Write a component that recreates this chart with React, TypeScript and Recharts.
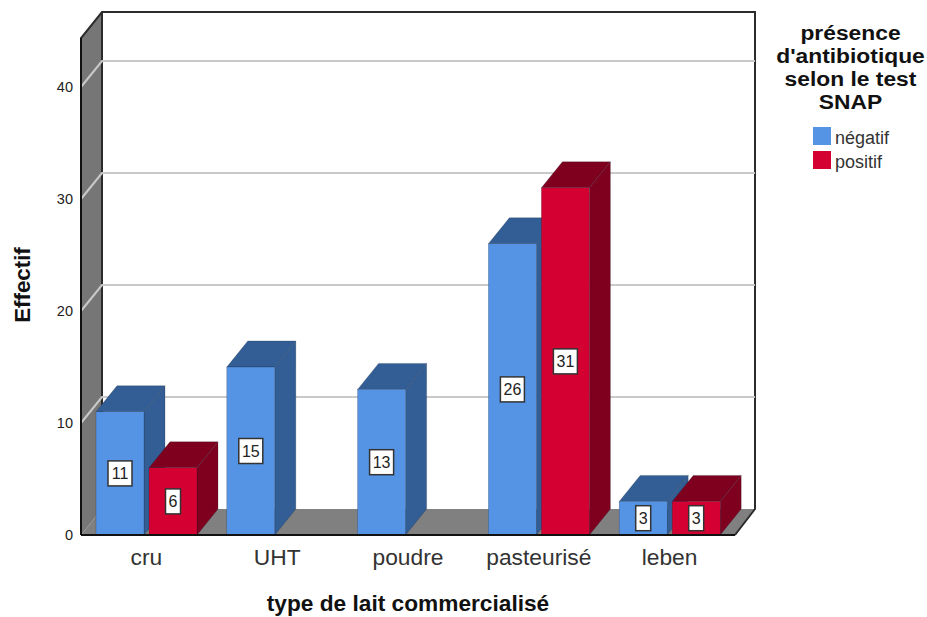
import React from "react";
import { BarChart, Bar, XAxis, YAxis, CartesianGrid, LabelList, Legend } from "recharts";

const categories = ["cru", "UHT", "poudre", "pasteurisé", "leben"];
const negatif = [11, 15, 13, 26, 3];
const positif: (number | null)[] = [6, null, null, 31, 3];
const yTicks = [0, 10, 20, 30, 40];
const legendTitle = ["présence", "d'antibiotique", "selon le test", "SNAP"];
const seriesNames = ["négatif", "positif"];

const data = categories.map((name, i) => ({ name, negatif: negatif[i], positif: positif[i] }));

const W = 927, H = 617;
const L = 81, R = 735, T = 38, B = 535;
const DX = 21, DY = 26;
const FONT = "'Liberation Sans', Arial, sans-serif";
const LINE = "#2b2b2b";

const BLUE = { front: "#5594E4", dark: "#335E95" };
const RED = { front: "#D50032", dark: "#7F001E" };

const Walls = () => (
  <g>
    <rect x={L + DX} y={T - DY} width={R - L} height={B - T} fill="#ffffff" />
    <polygon points={`${L},${T} ${L + DX},${T - DY} ${L + DX},${B - DY} ${L},${B}`} fill="#767676" />
    <polygon points={`${L},${B} ${L + DX},${B - DY} ${R + DX - 1},${B - DY} ${R},${B}`} fill="#808080" />
    <path
      d={`M${L},${B} L${L},${T} L${L + DX},${T - DY} L${R + DX - 1},${T - DY} L${R + DX - 1},${B - DY} L${R},${B}`}
      fill="none" stroke={LINE} strokeWidth={2}
    />
    <line x1={L + DX} y1={T - DY} x2={L + DX} y2={B - DY} stroke={LINE} strokeWidth={2} />
  </g>
);

const gridLine = (p: any) => {
  const y = p.y1;
  const onEdge = Math.abs(y - B) < 1 || Math.abs(y - T) < 1;
  return (
    <g key={p.key}>
      {p.index === 0 ? <Walls /> : null}
      {onEdge ? null : (
        <path
          d={`M${L},${y} L${L + DX},${y - DY} L${R + DX - 1},${y - DY}`}
          fill="none" stroke="#c9c9c9" strokeWidth={2}
        />
      )}
    </g>
  );
};

const Bar3D = (c: { front: string; dark: string }) => (p: any) => {
  const { x, y, width, height } = p;
  if (height == null || height <= 0) return <g />;
  const e = "rgba(20,30,50,0.45)";
  return (
    <g>
      <polygon points={`${x},${y} ${x + DX},${y - DY} ${x + width + DX},${y - DY} ${x + width},${y}`} fill={c.dark} stroke={e} strokeWidth={0.5} />
      <polygon points={`${x + width},${y} ${x + width + DX},${y - DY} ${x + width + DX},${y + height - DY} ${x + width},${y + height}`} fill={c.dark} stroke={e} strokeWidth={0.5} />
      <rect x={x} y={y} width={width} height={height} fill={c.front} stroke={e} strokeWidth={0.5} />
    </g>
  );
};

const ValueBox = (p: any) => {
  const { x, y, width, height, value } = p;
  if (value == null) return null;
  const cx = x + width / 2, cy = y + height / 2;
  const w = String(value).length > 1 ? 24 : 15;
  const h = 25;
  return (
    <g>
      <rect x={cx - w / 2} y={cy - h / 2} width={w} height={h} fill="#ffffff" stroke="#333333" strokeWidth={1.5} />
      <text x={cx} y={cy + 6} textAnchor="middle" fontSize={16} fontFamily={FONT} fill="#222222">{value}</text>
    </g>
  );
};

const YTitle = () => (
  <text
    transform={`translate(30,${(T + B) / 2 - 1.5}) rotate(-90)`}
    textAnchor="middle" fontSize={22.3} fontWeight={700} fontFamily={FONT} fill="#111"
  >
    Effectif
  </text>
);

const LegendBox = () => (
  <div style={{ width: 177, fontFamily: FONT, color: "#111" }}>
    <div style={{ fontWeight: 700, fontSize: 20, lineHeight: "23px", textAlign: "center", transform: "scaleX(1.14)", transformOrigin: "center" }}>
      {legendTitle.map((t) => <div key={t} style={{ height: 23 }}>{t}</div>)}
    </div>
    <div style={{ marginTop: 10, marginLeft: 51 }}>
      {seriesNames.map((s, i) => (
        <div key={s} style={{ display: "flex", alignItems: "center", height: 24 }}>
          <span style={{ width: 18, height: 18, background: i === 0 ? BLUE.front : RED.front, display: "inline-block", marginRight: 4 }} />
          <span style={{ fontSize: 18, color: "#333", position: "relative", top: 2 }}>{s}</span>
        </div>
      ))}
    </div>
  </div>
);

export default function App() {
  return (
    <div style={{ position: "absolute", left: 0, top: 0, width: W, height: H, overflow: "hidden", background: "#fff" }}>
      <BarChart
        width={W}
        height={H}
        data={data}
        margin={{ top: T, right: W - R, bottom: 0, left: 0 }}
        barSize={48}
        barGap={5}
      >
        <CartesianGrid vertical={false} horizontal={gridLine} />
        <XAxis
          dataKey="name"
          height={H - B}
          tickLine={false}
          tickSize={0}
          tickMargin={14}
          axisLine={{ stroke: "#111", strokeWidth: 2 }}
          tick={{ fontSize: 22.8, fontFamily: FONT, fill: "#333" }}
          label={{ value: "type de lait commercialisé", position: "insideBottom", offset: 6, fontSize: 22.7, fontWeight: 700, fontFamily: FONT, fill: "#111" }}
        />
        <YAxis
          width={L}
          domain={[0, 44.375]}
          ticks={yTicks}
          interval={0}
          tickLine={false}
          tickSize={0}
          tickMargin={8}
          axisLine={{ stroke: "#111", strokeWidth: 2 }}
          tick={{ fontSize: 14.5, fontFamily: FONT, fill: "#222" }}
          label={YTitle}
        />
        <Legend
          layout="horizontal"
          verticalAlign="middle"
          content={<LegendBox />}
          wrapperStyle={{ position: "absolute", left: 762, top: 22, width: 177, height: "auto" }}
        />
        <Bar dataKey="negatif" name="négatif" fill={BLUE.front} shape={Bar3D(BLUE)} isAnimationActive={false}>
          <LabelList dataKey="negatif" content={ValueBox} />
        </Bar>
        <Bar dataKey="positif" name="positif" fill={RED.front} shape={Bar3D(RED)} isAnimationActive={false}>
          <LabelList dataKey="positif" content={ValueBox} />
        </Bar>
      </BarChart>
    </div>
  );
}
